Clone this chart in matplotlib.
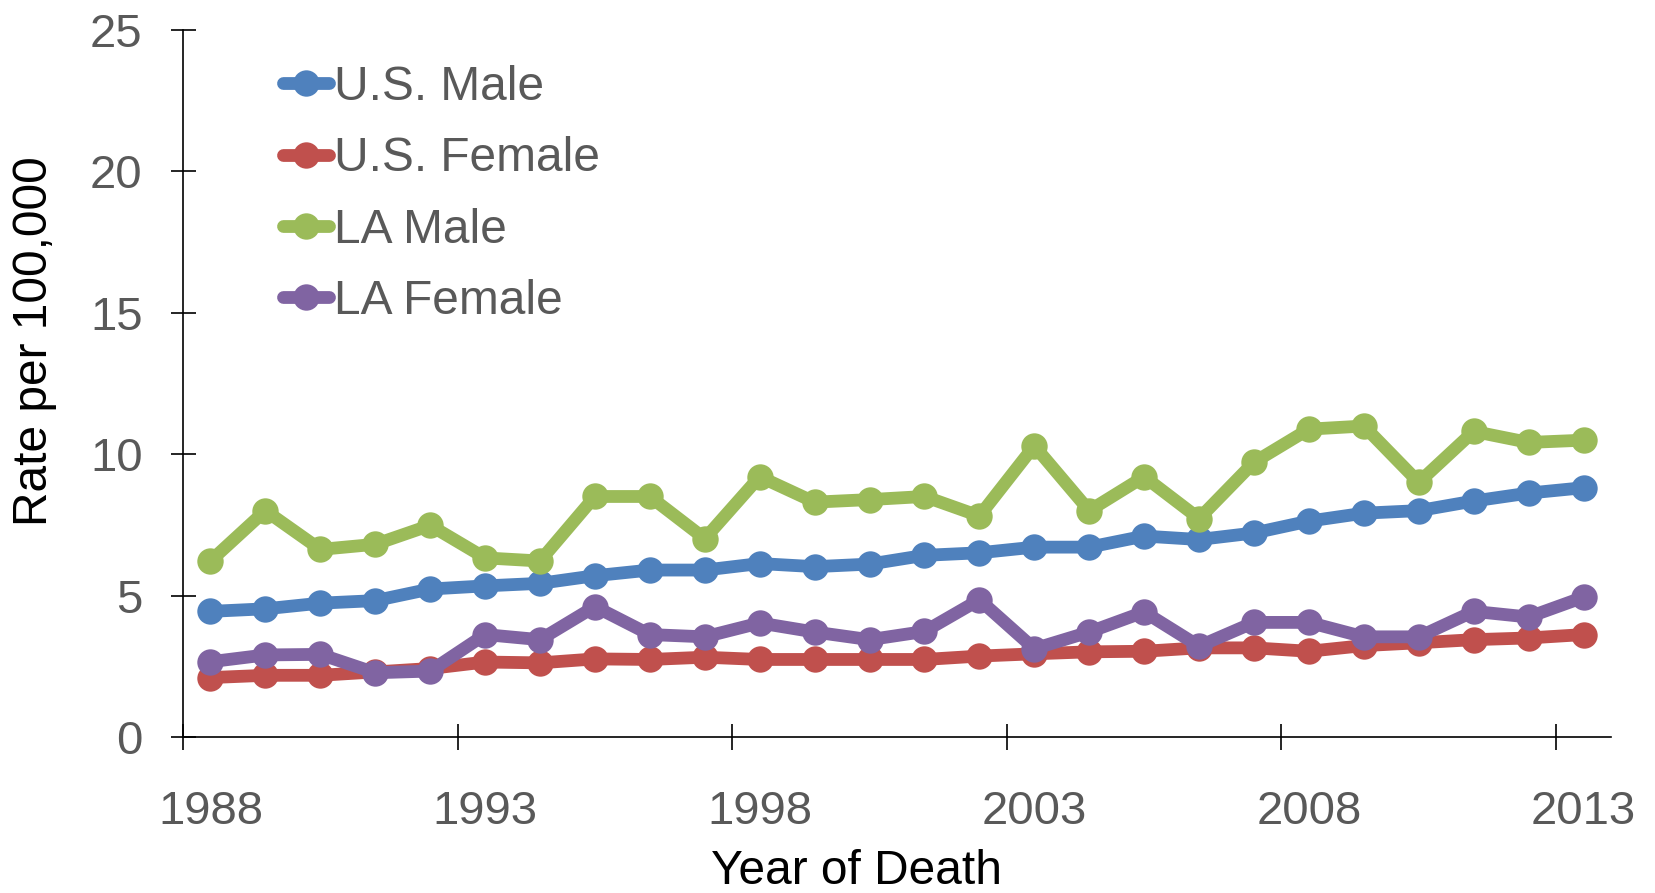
import matplotlib
matplotlib.use("Agg")
import matplotlib.pyplot as plt
import numpy as np

plt.rcParams['font.family'] = ['Liberation Sans', 'DejaVu Sans']

years = list(range(1988, 2014))
us_male = [4.44, 4.53, 4.73, 4.82, 5.23, 5.34, 5.43, 5.70, 5.90, 5.90, 6.13, 6.02, 6.11,
           6.42, 6.51, 6.71, 6.71, 7.10, 6.98, 7.21, 7.63, 7.91, 8.00, 8.34, 8.62, 8.81]
us_female = [2.10, 2.18, 2.18, 2.30, 2.42, 2.65, 2.62, 2.76, 2.74, 2.82, 2.74, 2.74, 2.74,
             2.74, 2.86, 2.94, 3.01, 3.03, 3.15, 3.15, 3.03, 3.23, 3.33, 3.44, 3.50, 3.62]
la_male = [6.22, 8.00, 6.63, 6.81, 7.48, 6.33, 6.22, 8.50, 8.50, 7.01, 9.20, 8.30, 8.39,
           8.50, 7.81, 10.29, 8.00, 9.20, 7.72, 9.71, 10.88, 10.99, 9.00, 10.80, 10.41, 10.49]
la_female = [2.66, 2.90, 2.92, 2.27, 2.33, 3.62, 3.44, 4.61, 3.62, 3.54, 4.03, 3.71, 3.44,
             3.73, 4.85, 3.12, 3.71, 4.42, 3.21, 4.05, 4.05, 3.54, 3.54, 4.44, 4.24, 4.94]

series = [("U.S. Male", us_male, "#4F81BD"),
          ("U.S. Female", us_female, "#C0504D"),
          ("LA Male", la_male, "#9BBB59"),
          ("LA Female", la_female, "#8064A2")]

gray = "#595959"

fig = plt.figure(figsize=(16.56, 8.93), dpi=100)
ax = fig.add_axes([183 / 1656, 1 - 737 / 893, (1611 - 183) / 1656, (737 - 29.6) / 893])

x = np.arange(len(years))
for name, vals, col in series:
    ax.plot(x, vals, color=col, lw=9.2, marker='o', markersize=19,
            markeredgewidth=0, label=name, solid_joinstyle='round',
            solid_capstyle='round')

ax.set_xlim(-0.5, len(years) - 0.5)
ax.set_ylim(0, 25)

ax.set_yticks([0, 5, 10, 15, 20, 25])
ax.tick_params(axis='y', direction='inout', length=18, width=1.2, labelsize=34,
               labelcolor=gray, pad=20)

label_idx = x[::5]
ax.set_xticks(label_idx)
ax.set_xticklabels([str(years[i]) for i in label_idx])
ax.set_xticks(np.arange(-0.5, len(years) - 1, 5), minor=True)
ax.tick_params(axis='x', which='major', length=0, labelsize=34, labelcolor=gray, pad=38)
ax.tick_params(axis='x', which='minor', direction='inout', length=19, width=1.2)

for s in ['top', 'right']:
    ax.spines[s].set_visible(False)
for s in ['left', 'bottom']:
    ax.spines[s].set_linewidth(1.2)
    ax.spines[s].set_color('black')

fig.text(35 / 1656, 1 - 341 / 893, "Rate per 100,000", rotation=90,
         ha='center', va='center', fontsize=34.5)
fig.text(857 / 1656, 1 - 871 / 893, "Year of Death", ha='center', va='center', fontsize=34.5)

leg = ax.legend(loc='upper left', bbox_to_anchor=(283 / 1656, 1 - 65 / 893),
                bbox_transform=fig.transFigure, frameon=False, fontsize=34.5,
                handlelength=0.97, handletextpad=0.1, labelspacing=0.55,
                borderpad=0, borderaxespad=0)
for t in leg.get_texts():
    t.set_color(gray)

fig.savefig("out.png", dpi=100)
